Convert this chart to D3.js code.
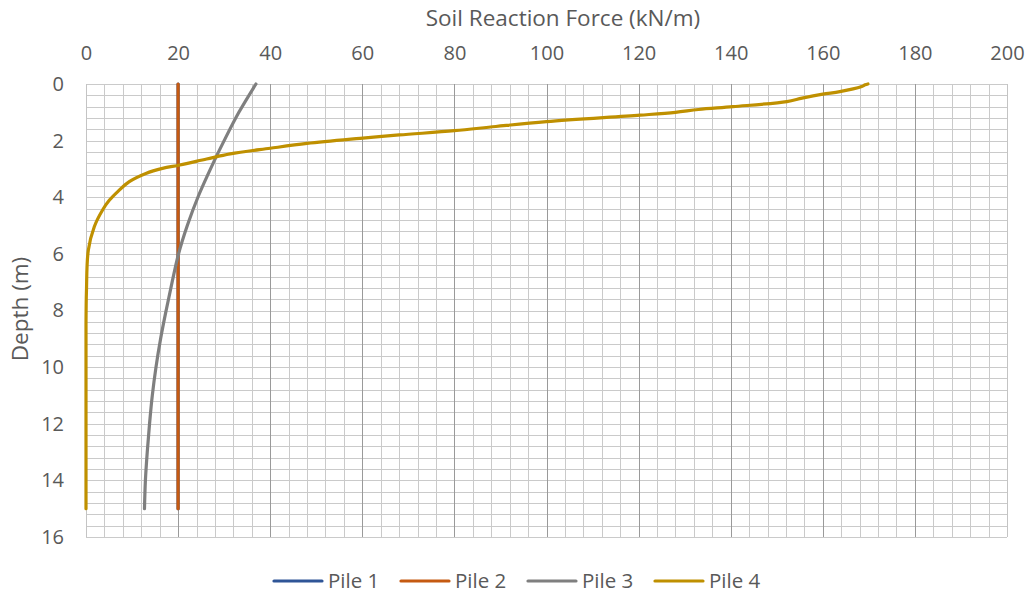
<!DOCTYPE html>
<html>
<head>
<meta charset="utf-8">
<script src="https://cdn.jsdelivr.net/npm/d3@7"></script>
<style>
  body { margin: 0; background: #fff; }
  svg text { font-family: 'Open Sans', sans-serif; fill: #595959; }
</style>
</head>
<body>
<svg id="chart" width="1031" height="598"></svg>
<script>
// depth (m) and soil reaction force (kN/m)
const pile1Depth = [0, 1, 2, 3, 4, 5, 6, 7, 8, 9, 10, 11, 12, 13, 14, 15];
const pile1Force = [20, 20, 20, 20, 20, 20, 20, 20, 20, 20, 20, 20, 20, 20, 20, 20];

const pile2Depth = [0, 1, 2, 3, 4, 5, 6, 7, 8, 9, 10, 11, 12, 13, 14, 15];
const pile2Force = [20, 20, 20, 20, 20, 20, 20, 20, 20, 20, 20, 20, 20, 20, 20, 20];

const pile3Depth = [0, 1, 2, 2.7, 4, 5, 6, 7, 8, 9, 10, 11, 12, 13, 14, 15];
const pile3Force = [36.9, 33.2, 30.0, 27.9, 24.3, 22.0, 20.1, 18.7, 17.4, 16.2, 15.2, 14.4, 13.8, 13.3, 12.9, 12.7];

const pile4Depth = [0, 0.03, 0.1, 0.27, 0.36, 0.5, 0.62, 0.8, 0.9, 1.0, 1.1, 1.33, 1.5, 1.65, 1.8, 1.92, 2.1, 2.27, 2.47, 2.65, 2.86, 2.98, 3.16, 3.45, 3.8, 4.1, 4.45, 5.04, 5.87, 7.3, 8.5, 10, 12, 15];
const pile4Force = [169.8, 169.2, 168.3, 163.7, 160, 155.5, 152.2, 140.5, 133, 128, 120.3, 100, 89, 80, 68, 59.5, 48, 40, 31.3, 26.2, 20.4, 16.6, 13.0, 9.4, 6.9, 5.1, 3.6, 1.8, 0.5, 0.1, 0, 0, 0, 0];

const seriesNames = ['Pile 1', 'Pile 2', 'Pile 3', 'Pile 4'];
const seriesColors = ['#2F5597', '#C55A11', '#7F7F7F', '#BF9000'];

const xTicks = [0, 20, 40, 60, 80, 100, 120, 140, 160, 180, 200];
const yTicks = [0, 2, 4, 6, 8, 10, 12, 14, 16];

const conf = {
  left: 86,
  right: 1007,
  top: 84,
  bottom: 537,
  lineWidth: 3.2
};

const series = [
  { depth: pile1Depth, force: pile1Force },
  { depth: pile2Depth, force: pile2Force },
  { depth: pile3Depth, force: pile3Force },
  { depth: pile4Depth, force: pile4Force }
].map((s, i) => ({
  name: seriesNames[i],
  color: seriesColors[i],
  points: s.depth.map((d, j) => ({ depth: d, force: s.force[j] }))
}));

const svg = d3.select('#chart');

const x = d3.scaleLinear().domain([0, 200]).range([conf.left, conf.right]);
const y = d3.scaleLinear().domain([0, 16]).range([conf.top, conf.bottom]);

// grid: minor lines first, then major ones on top
const grid = svg.append('g');
const xMinor = d3.range(0, 51).map(i => i * 4);
const yMinor = d3.range(0, 41).map(i => i * 0.4);

grid.selectAll('line.ym')
  .data(yMinor)
  .join('line')
  .attr('x1', conf.left)
  .attr('x2', conf.right)
  .attr('y1', d => Math.round(y(d)) + 0.5)
  .attr('y2', d => Math.round(y(d)) + 0.5)
  .attr('stroke', '#cacaca')
  .attr('stroke-width', 1);

grid.selectAll('line.xm')
  .data(xMinor.filter(d => d % 20 !== 0))
  .join('line')
  .attr('y1', conf.top)
  .attr('y2', conf.bottom)
  .attr('x1', d => Math.round(x(d)) + 0.5)
  .attr('x2', d => Math.round(x(d)) + 0.5)
  .attr('stroke', '#cacaca')
  .attr('stroke-width', 1);

grid.selectAll('line.xM')
  .data(xTicks)
  .join('line')
  .attr('y1', conf.top)
  .attr('y2', conf.bottom)
  .attr('x1', d => Math.round(x(d)) + 0.5)
  .attr('x2', d => Math.round(x(d)) + 0.5)
  .attr('stroke', d => (d === 0 || d === 200 ? '#c4c4c4' : '#9a9a9a'))
  .attr('stroke-width', 1);

// axes (labels only)
const xAxis = svg.append('g')
  .attr('transform', 'translate(0,' + (conf.top - 22) + ')')
  .call(d3.axisTop(x).tickValues(xTicks).tickSize(0).tickPadding(0));
xAxis.select('.domain').remove();
xAxis.selectAll('text')
  .attr('font-size', 20)
  .style('font-family', "'Open Sans', sans-serif")
  .attr('fill', '#595959')
  .attr('dy', '0.35em')
  .attr('y', -9);

const yAxis = svg.append('g')
  .attr('transform', 'translate(' + (conf.left - 22) + ',0)')
  .call(d3.axisLeft(y).tickValues(yTicks).tickSize(0).tickPadding(0));
yAxis.select('.domain').remove();
yAxis.selectAll('text')
  .attr('font-size', 20)
  .style('font-family', "'Open Sans', sans-serif")
  .attr('fill', '#595959');

// axis titles
svg.append('text')
  .attr('x', 563)
  .attr('y', 18)
  .attr('dy', '0.35em')
  .attr('text-anchor', 'middle')
  .attr('font-size', 22.5)
  .text('Soil Reaction Force (kN/m)');

svg.append('text')
  .attr('transform', 'translate(20,' + 309 + ') rotate(-90)')
  .attr('dy', '0.35em')
  .attr('text-anchor', 'middle')
  .attr('font-size', 22.5)
  .text('Depth (m)');

// series lines
const line = d3.line()
  .x(d => x(d.force))
  .y(d => y(d.depth))
  .curve(d3.curveCatmullRom.alpha(0.5));

svg.append('g')
  .selectAll('path')
  .data(series)
  .join('path')
  .attr('d', d => line(d.points))
  .attr('fill', 'none')
  .attr('stroke', d => d.color)
  .attr('stroke-width', conf.lineWidth)
  .attr('stroke-linecap', 'round')
  .attr('stroke-linejoin', 'round');

// legend
const legendX = [274, 401, 528, 655];
const legend = svg.append('g')
  .selectAll('g')
  .data(series)
  .join('g')
  .attr('transform', (d, i) => 'translate(' + legendX[i] + ',581)');

legend.append('line')
  .attr('x1', 0)
  .attr('x2', 48)
  .attr('stroke', d => d.color)
  .attr('stroke-width', conf.lineWidth)
  .attr('stroke-linecap', 'round');

legend.append('text')
  .attr('x', 54)
  .attr('dy', '0.35em')
  .attr('font-size', 20.5)
  .text(d => d.name);
</script>
</body>
</html>
